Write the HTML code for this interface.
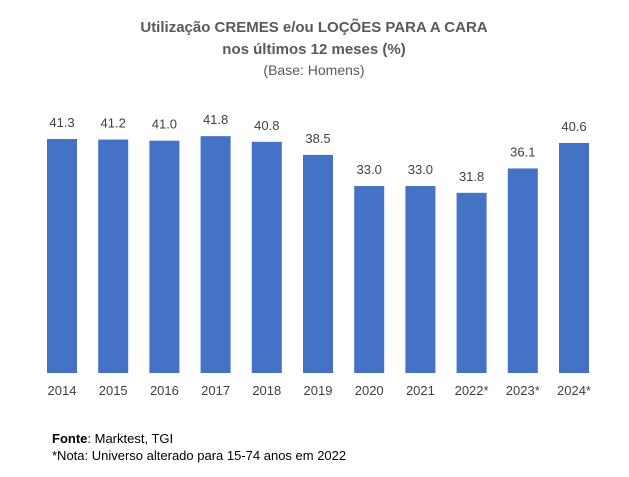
<!DOCTYPE html>
<html><head><meta charset="utf-8"><style>
body{margin:0;background:#fff;}
svg{display:block;font-family:"Liberation Sans",sans-serif;}
</style></head><body>
<svg width="629" height="477" viewBox="0 0 629 477">
<text x="314" y="32" text-anchor="middle" font-size="15" font-weight="bold" fill="#595959">Utilização CREMES e/ou LOÇÕES PARA A CARA</text>
<text x="314" y="54" text-anchor="middle" font-size="15" font-weight="bold" fill="#595959">nos últimos 12 meses (%)</text>
<text x="314" y="75" text-anchor="middle" font-size="14" fill="#595959">(Base: Homens)</text>
<g id="bars"></g>
<text x="52" y="443" font-size="13" fill="#000"><tspan font-weight="bold">Fonte</tspan>: Marktest, TGI</text>
<text x="52" y="460" font-size="13" fill="#000">*Nota: Universo alterado para 15-74 anos em 2022</text>
</svg>
<script>
const categories=["2014","2015","2016","2017","2018","2019","2020","2021","2022*","2023*","2024*"];
const values=[41.3,41.2,41.0,41.8,40.8,38.5,33.0,33.0,31.8,36.1,40.6];
const labels=["41.3","41.2","41.0","41.8","40.8","38.5","33.0","33.0","31.8","36.1","40.6"];
const base=373, scale=5.666, x0=62, step=51.2, bw=30;
const xPos=i=>x0+i*step;
const yPos=v=>base-v*scale;
const g=document.getElementById('bars');
const ns="http://www.w3.org/2000/svg";
values.forEach((v,i)=>{
  const r=document.createElementNS(ns,'rect');
  r.setAttribute('x',xPos(i)-bw/2);r.setAttribute('y',yPos(v));
  r.setAttribute('width',bw);r.setAttribute('height',base-yPos(v));
  r.setAttribute('fill','#4472C4');
  
  
  g.appendChild(r);
  const t=document.createElementNS(ns,'text');
  t.setAttribute('x',xPos(i));t.setAttribute('y',yPos(v)-12);
  t.setAttribute('text-anchor','middle');t.setAttribute('font-size','13');t.setAttribute('fill','#404040');
  t.textContent=labels[i];
  
  
  g.appendChild(t);
  const c=document.createElementNS(ns,'text');
  c.setAttribute('x',xPos(i));c.setAttribute('y',395);
  c.setAttribute('text-anchor','middle');c.setAttribute('font-size','13');c.setAttribute('fill','#404040');
  c.textContent=categories[i];
  
  
  g.appendChild(c);
});
</script>
</body></html>
